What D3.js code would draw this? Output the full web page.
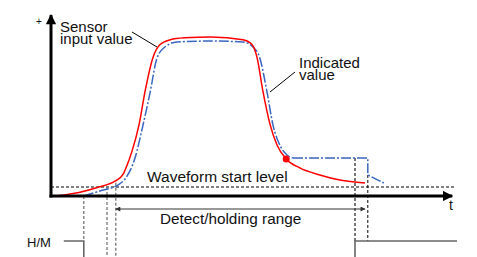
<!DOCTYPE html>
<html>
<head>
<meta charset="utf-8">
<script src="https://cdn.jsdelivr.net/npm/d3@7"></script>
<style>
  body { margin: 0; background: #fff; }
  svg text { font-family: "Liberation Sans", Arial, Helvetica, sans-serif; fill: #111; }
</style>
</head>
<body>
<div id="canvas"></div>
<script>
"use strict"

// Sensor input value (time, level)
const sensorData = [
    [1, 0], [7, 2], [12, 5], [16, 8.2], [18, 12], [19, 17], [20.2, 24.5], [22, 39.5],
    [23.5, 58], [25.5, 77], [27.2, 84], [29.8, 86.8], [33.5, 87.9], [40, 88.4],
    [48, 86.8], [50.3, 84], [51.5, 77], [53, 58], [54.8, 39.5], [56.5, 28.3],
    [58.8, 20.6], [62.2, 15.6], [67.2, 11.7], [72.2, 8.9], [78.5, 7.2]
];

// Indicated value, rising/falling part
const indicatedData = [
    [8.2, 0], [12.2, 2.8], [16.7, 6.1], [18.7, 10], [21, 21.1], [23, 39.4],
    [24.8, 57.8], [26.5, 76.7], [28.5, 82.8], [31.5, 85.6], [39.8, 86.1],
    [48, 85.6], [50.5, 82.8], [52.2, 76.7], [54, 57.8], [55.5, 39.4],
    [57.2, 28.3], [59, 22.8], [60.5, 21.1]
];

// Indicated value while held, then released
const holdData = [[60.5, 21.1], [79.2, 21.1], [79.2, 11.7], [83.2, 7.2]];

// Detection point on the sensor curve
const detectPoint = [58.8, 20.6];

// Waveform start level
const startLevel = 5;

// Detect/holding range (time)
const detectRange = [16.2, 78.5];

// H/M output steps (time, state)
const hmData = [[3.2, 1], [8.2, 1], [8.2, 0], [76, 0], [76, 1], [101.5, 1]];

// Reference times
const markers = [
    { t: 8.2, from: 0, to: "hm", kind: "gray" },
    { t: 14, from: 5, to: "bottom", kind: "gray" },
    { t: 16.2, from: 7.3, to: "bottom", kind: "gray" },
    { t: 76, from: 21.1, to: "hm", kind: "grayBold" },
    { t: 79.2, from: 11.7, to: "hm", kind: "black" }
];

let drawing = d3.select("#canvas")
    .append("svg")
    .attr("width", 477)
    .attr("height", 257);

// scales
let x = d3.scaleLinear().domain([0, 100]).range([51, 451]);
let y = d3.scaleLinear().domain([0, 100]).range([196, 16]);
let yHM = d3.scaleLinear().domain([0, 1]).range([272, 241]);

let defs = drawing.append("defs");
defs.append("marker")
    .attr("id", "axisHead")
    .attr("viewBox", "0 0 10 10")
    .attr("refX", 9).attr("refY", 5)
    .attr("markerWidth", 4).attr("markerHeight", 3.4)
    .attr("markerUnits", "strokeWidth")
    .attr("orient", "auto")
    .append("path").attr("d", "M0,0 L10,5 L0,10 Z").attr("fill", "#000");
defs.append("marker")
    .attr("id", "rangeHead")
    .attr("viewBox", "0 0 10 10")
    .attr("refX", 9).attr("refY", 5)
    .attr("markerWidth", 8).attr("markerHeight", 5)
    .attr("orient", "auto-start-reverse")
    .append("path").attr("d", "M0,0 L10,5 L0,10 Z").attr("fill", "#333");

// waveform start level
drawing.append("line")
    .attr("x1", x(0)).attr("x2", x(101.2))
    .attr("y1", y(startLevel)).attr("y2", y(startLevel))
    .attr("stroke", "#000").attr("stroke-width", 1)
    .attr("stroke-dasharray", "3,2");

// reference dashed verticals
markers.forEach(m => {
    let yEnd = m.to === "hm" ? yHM(1) : 257;
    drawing.append("line")
        .attr("x1", x(m.t)).attr("x2", x(m.t))
        .attr("y1", y(m.from)).attr("y2", yEnd)
        .attr("stroke", m.kind === "black" ? "#000" : "#777")
        .attr("stroke-width", m.kind === "grayBold" ? 2 : (m.kind === "black" ? 1 : 1.3))
        .attr("stroke-dasharray", "3,2");
});

// H/M output
drawing.append("path")
    .datum(hmData)
    .attr("d", d3.line().x(d => x(d[0])).y(d => yHM(d[1])))
    .attr("fill", "none")
    .attr("stroke", "#666")
    .attr("stroke-width", 1.6);
drawing.append("text")
    .attr("x", 27).attr("y", 247)
    .attr("font-size", 13)
    .text("H/M");

// detect/holding range arrow
drawing.append("line")
    .attr("x1", x(detectRange[0])).attr("x2", x(detectRange[1]))
    .attr("y1", 209).attr("y2", 209)
    .attr("stroke", "#333").attr("stroke-width", 1)
    .attr("marker-start", "url(#rangeHead)")
    .attr("marker-end", "url(#rangeHead)");
drawing.append("text")
    .attr("x", 160).attr("y", 224)
    .attr("font-size", 15.3)
    .text("Detect/holding range");

// curves
let smooth = d3.line().x(d => x(d[0])).y(d => y(d[1])).curve(d3.curveMonotoneX);
let straight = d3.line().x(d => x(d[0])).y(d => y(d[1]));

drawing.append("path")
    .datum(indicatedData)
    .attr("d", smooth)
    .attr("fill", "none")
    .attr("stroke", "#3a66c0")
    .attr("stroke-width", 1.5)
    .attr("stroke-dasharray", "10,2,2,2");
drawing.append("path")
    .datum(holdData)
    .attr("d", straight)
    .attr("fill", "none")
    .attr("stroke", "#3a66c0")
    .attr("stroke-width", 1.5)
    .attr("stroke-dasharray", "10,2,2,2");

drawing.append("path")
    .datum(sensorData)
    .attr("d", smooth)
    .attr("fill", "none")
    .attr("stroke", "#ff0000")
    .attr("stroke-width", 1.5);

drawing.append("circle")
    .attr("cx", x(detectPoint[0]))
    .attr("cy", y(detectPoint[1]))
    .attr("r", 3.5)
    .attr("fill", "#ff0000");

// axes
drawing.append("line")
    .attr("x1", x(0)).attr("x2", x(0))
    .attr("y1", y(0) + 1.5).attr("y2", y(100.5))
    .attr("stroke", "#000").attr("stroke-width", 3)
    .attr("marker-end", "url(#axisHead)");
drawing.append("line")
    .attr("x1", x(0) - 1.5).attr("x2", x(100.3))
    .attr("y1", y(0)).attr("y2", y(0))
    .attr("stroke", "#000").attr("stroke-width", 3)
    .attr("marker-end", "url(#axisHead)");

drawing.append("text").attr("x", 36).attr("y", 25).attr("font-size", 10).text("+");
drawing.append("text").attr("x", 449).attr("y", 210).attr("font-size", 14).text("t");

// labels and leaders (two-line labels as one text each)
let sensorLabel = drawing.append("text").attr("font-size", 15);
sensorLabel.append("tspan").attr("x", 60).attr("y", 32).text("Sensor");
sensorLabel.append("tspan").attr("x", 60).attr("y", 44).text("input value");
drawing.append("line")
    .attr("x1", 132).attr("y1", 32).attr("x2", 157).attr("y2", 47)
    .attr("stroke", "#000").attr("stroke-width", 1);

let indicatedLabel = drawing.append("text").attr("font-size", 15);
indicatedLabel.append("tspan").attr("x", 299).attr("y", 68).text("Indicated");
indicatedLabel.append("tspan").attr("x", 299).attr("y", 80).text("value");
drawing.append("line")
    .attr("x1", 295).attr("y1", 72).attr("x2", 270).attr("y2", 92)
    .attr("stroke", "#000").attr("stroke-width", 1);

drawing.append("text").attr("x", 147).attr("y", 182).attr("font-size", 15.5).text("Waveform start level");
</script>
</body>
</html>
